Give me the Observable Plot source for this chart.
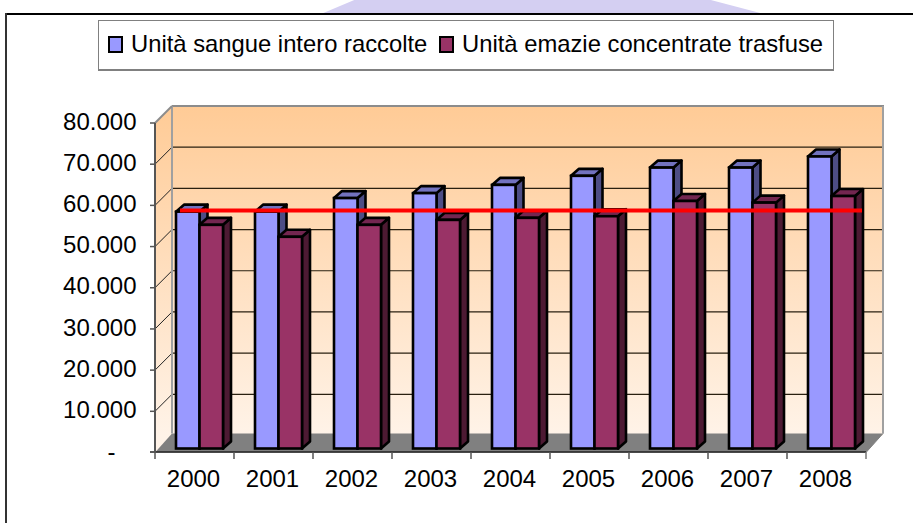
<!DOCTYPE html>
<html lang="it">
<head>
<meta charset="utf-8">
<script src="https://cdn.jsdelivr.net/npm/d3@7"></script>
<script src="https://cdn.jsdelivr.net/npm/@observablehq/plot@0.6"></script>
<style>
html,body{margin:0;padding:0;background:#fff;overflow:hidden}
#stage{position:relative;width:913px;height:523px;overflow:hidden;font-family:"Liberation Sans",Arial,sans-serif}
#stage>*{position:absolute}
#mark{left:321px;top:0;width:443px;height:14px;background:#d4cff2;clip-path:polygon(7.5% 0,88% 0,100% 100%,0 100%)}
#ftop{left:5px;top:13px;width:908px;height:2px;background:#000}
#fleft{left:5px;top:13px;width:2px;height:510px;background:#333}
#plot{left:0;top:0}
#legend{left:98px;top:20px;width:734px;height:48px;box-sizing:content-box;border:1px solid #808080;border-bottom-width:2px;background:#fff;font-size:23.8px;color:#000;white-space:nowrap}
#legend span{position:absolute;top:9px;line-height:28px}
#legend i{position:absolute;top:15px;width:11px;height:13px;border:2px solid #000}
</style>
</head>
<body>
<div id="stage">
  <div id="mark"></div>
  <div id="ftop"></div>
  <div id="fleft"></div>
  <div id="plot"></div>
  <div id="legend"></div>
</div>
<script>
const years = ["2000","2001","2002","2003","2004","2005","2006","2007","2008"];
const raccolte = [57500,57500,60800,62000,64000,66200,68200,68200,70900];
const trasfuse = [54300,51400,54300,55500,56000,56400,60100,59700,61300];
const media = [57900];
const yTicks = [0,10000,20000,30000,40000,50000,60000,70000,80000];
const seriesNames = ["Unità sangue intero raccolte","Unità emazie concentrate trasfuse"];
const seriesColors = ["#9999ff","#993366"];
const sideColors = ["#4d4d85","#4d1a33"];
const topColors = ["#7272bf","#732650"];

const back = {dx:12, dy:-13};
const front = {dx:-5, dy:4};
const depth = {dx:8, dy:-7};
const inset = [[16,39.5],[39.5,63]];

const rows = s => years.map((year,i)=>({year,value:(s?trasfuse:raccolte)[i]}));
const poly = (g,pts,fill,stroke,sw) => g.append("path")
  .attr("d","M"+pts.map(p=>p.join(",")).join("L")+"Z")
  .attr("fill",fill).attr("stroke",stroke||"none").attr("stroke-width",sw||0).attr("stroke-linejoin","round");
const seg = (g,a,b,stroke,sw) => g.append("line")
  .attr("x1",a[0]).attr("y1",a[1]).attr("x2",b[0]).attr("y2",b[1])
  .attr("stroke",stroke).attr("stroke-width",sw);

function walls(index,{x,y}){
  const g = d3.create("svg:g");
  const defs = g.append("defs").append("linearGradient").attr("id","wall")
    .attr("gradientUnits","userSpaceOnUse").attr("x1",0).attr("x2",0)
    .attr("y1",y(80000)+back.dy).attr("y2",y(0)+back.dy);
  defs.append("stop").attr("offset",0).attr("stop-color","#ffcb96");
  defs.append("stop").attr("offset",1).attr("stop-color","#fff3e8");
  const L = x(years[0]), R = x(years[8])+x.bandwidth();
  const T = y(80000), B = y(0);
  // back wall and left wall
  poly(g,[[L+back.dx,T+back.dy],[R+back.dx,T+back.dy],[R+back.dx,B+back.dy],[L+back.dx,B+back.dy]],"url(#wall)");
  poly(g,[[L+front.dx,T+front.dy],[L+back.dx,T+back.dy],[L+back.dx,B+back.dy],[L+front.dx,B+front.dy]],"url(#wall)");
  // gridlines
  for (const t of yTicks.slice(1,-1)) {
    seg(g,[L+front.dx,y(t)+front.dy],[L+back.dx,y(t)+back.dy],"#222",1);
    seg(g,[L+back.dx,y(t)+back.dy],[R+back.dx,y(t)+back.dy],"#2a2010",1.2);
  }
  // floor
  poly(g,[[L+front.dx,B+front.dy],[L+back.dx,B+back.dy-2],[R+back.dx,B+back.dy-2],[R+front.dx,B+front.dy]],"#808080");
  // wall borders
  seg(g,[L+back.dx,T+back.dy],[R+back.dx+1,T+back.dy],"#8c8c8c",2);
  seg(g,[L+back.dx,T+back.dy],[L+back.dx,B+back.dy-2],"#a0a0a0",2);
  seg(g,[R+back.dx,T+back.dy],[R+back.dx,B+back.dy-2],"#a0a0a0",2);
  seg(g,[L+front.dx,T+front.dy],[L+back.dx,T+back.dy],"#8c8c8c",2);
  seg(g,[R+front.dx,B+front.dy],[R+back.dx,B+back.dy-2],"#808080",1);
  return g.node();
}

function faces(s){
  return (index,{x,y})=>{
    const g = d3.create("svg:g");
    rows(s).forEach(d=>{
      const a = x(d.year)+inset[s][0], b = x(d.year)+inset[s][1];
      const t = y(d.value), z = y(0);
      poly(g,[[b,t],[b+depth.dx,t+depth.dy],[b+depth.dx,z+depth.dy],[b,z]],sideColors[s],"#000",2.6);
      poly(g,[[a,t],[a+depth.dx,t+depth.dy],[b+depth.dx,t+depth.dy],[b,t]],topColors[s],"#000",2.6);
    });
    return g.node();
  };
}

function baseAxis(index,{x,y}){
  const g = d3.create("svg:g");
  const L = x(years[0])+front.dx, R = x(years[8])+x.bandwidth()+front.dx, Y = y(0)+front.dy-.5;
  seg(g,[L-5,Y],[R,Y],"#222",1.5);
  seg(g,[L,y(80000)+front.dy],[L,Y],"#555",2);
  for (const t of yTicks.slice(1)) seg(g,[L-5,y(t)+front.dy],[L,y(t)+front.dy],"#555",1.5);
  for (const yr of years) seg(g,[x(yr)+front.dx,Y],[x(yr)+front.dx,Y+7],"#555",1.5);
  seg(g,[R,Y],[R,Y+7],"#777",1.5);
  return g.node();
}

const faceBar = s => Plot.barY(rows(s),{
  x:"year", y:"value", fill:seriesColors[s], stroke:"#000", strokeWidth:2.6,
  insetLeft:inset[s][0], insetRight:79-inset[s][1]
});

const chart = Plot.plot({
  width:913, height:523,
  marginLeft:160, marginRight:42, marginTop:119, marginBottom:74.5,
  style:{background:"none",fontFamily:"'Liberation Sans',Arial,sans-serif",color:"#000"},
  x:{type:"band",domain:years,padding:0,round:false,label:null},
  y:{domain:[0,80000],label:null},
  marks:[
    walls,
    faces(0), faceBar(0),
    faces(1), faceBar(1),
    Plot.ruleY(media,{stroke:"#ff0000",strokeWidth:4,insetLeft:20,insetRight:9}),
    baseAxis,
    Plot.axisY({anchor:"left",ticks:yTicks,tickSize:0,tickPadding:19,dx:front.dx,dy:2.5,fontSize:24,stroke:"none",fill:"#000",
      tickFormat:d=>d===0?"":d3.format(",")(d).replace(/,/g,".")}),
    Plot.text([0],{y:d=>d,text:()=>"-",frameAnchor:"left",dx:-53,dy:front.dy-1,fontSize:24,fill:"#000"}),
    Plot.axisX({anchor:"bottom",tickSize:0,tickPadding:21,dx:-6.5,fontSize:24,fill:"#000",stroke:"none"})
  ]
});
document.getElementById("plot").append(chart);

const legend = document.getElementById("legend");
[[9,32],[340,363]].forEach(([sx,tx],s)=>{
  const sw = document.createElement("i");
  sw.style.left = sx+"px"; sw.style.background = seriesColors[s];
  const t = document.createElement("span");
  t.style.left = tx+"px"; t.textContent = seriesNames[s];
  legend.append(sw,t);
});
</script>
</body>
</html>
